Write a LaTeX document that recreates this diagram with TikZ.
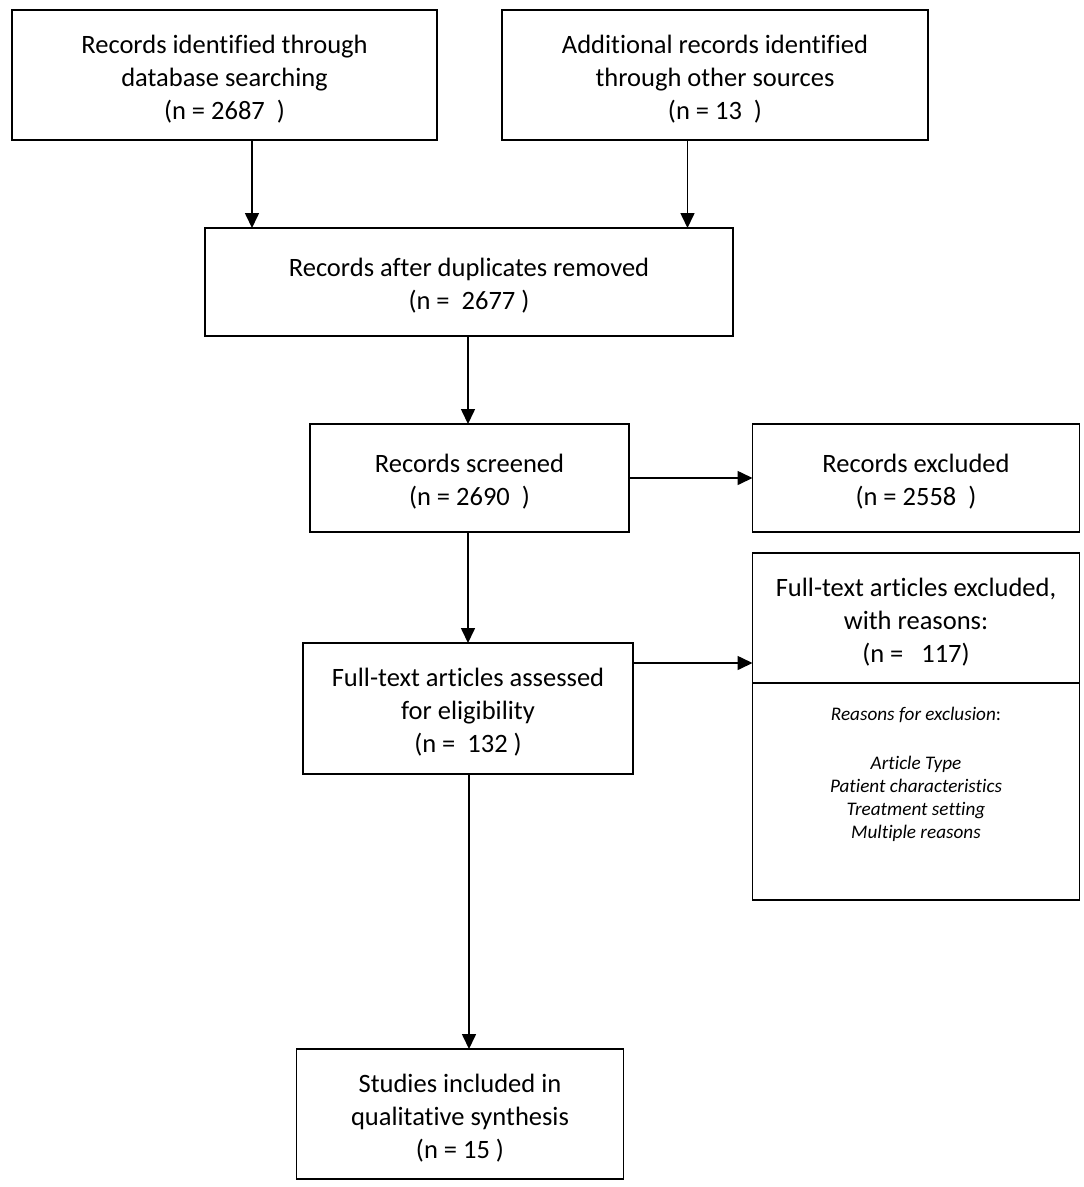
\documentclass[tikz,border=0pt]{standalone}
\usepackage{fontspec}
\setmainfont{Carlito}[Ligatures={NoCommon}]
\usetikzlibrary{arrows.meta}
\newcommand\myts{\rule{0pt}{26pt}}
\begin{document}
\begin{tikzpicture}[x=1pt,y=1pt,
  box/.style={draw=black, line width=1.8pt, fill=white, inner sep=0pt, outer sep=0pt,
    align=center, font=\fontsize{26.5}{33}\selectfont},
  arr/.style={draw=black, line width=1.6pt, -{Triangle[length=15pt,width=14pt]}},
  reasontxt/.style={inner sep=0pt, align=center, font=\fontsize{19.2}{23}\selectfont\itshape}]
\useasboundingbox (0,0) rectangle (1084,-1187);
\fill[white] (0,0) rectangle (1084,-1187);
% boxes
\node[box, minimum width=425, minimum height=130] (a) at (224.5,-75)
  {\myts Records identified through\\database searching\\(n = 2687\ \ )};
\node[box, minimum width=426, minimum height=130] (b) at (715,-75)
  {\myts Additional records identified\\through other sources\\(n = 13\ \ )};
\node[box, minimum width=528, minimum height=108] (c) at (469,-282)
  {\myts Records after duplicates removed\\(n =\ \ 2677 )};
\node[box, minimum width=319, minimum height=108] (d) at (469.5,-478)
  {\myts Records screened\\(n = 2690\ \ )};
\node[box, minimum width=327, minimum height=108] (e) at (916,-478)
  {\myts Records excluded\\(n = 2558\ \ )};
\node[box, minimum width=330, minimum height=131] (f) at (468,-708.5)
  {\myts Full-text articles assessed\\for eligibility\\(n =\ \ 132 )};
\node[box, minimum width=327, minimum height=130] (g1) at (916,-618)
  {\myts Full-text articles excluded,\\with reasons:\\(n =\ \ \ 117)};
\node[box, minimum width=327, minimum height=217, anchor=north] (g2) at (g1.south) {};
\node[reasontxt, anchor=north] (rs) at ([yshift=-24pt]g2.north)
  {\textit{Reasons for exclusion}\/\upshape:\\[26pt]Article Type\\Patient characteristics\\Treatment setting\\Multiple reasons};
\node[box, minimum width=327, minimum height=130] (h) at (460,-1114)
  {\myts Studies included in\\qualitative synthesis\\(n = 15 )};
% connectors
\draw[arr] ([xshift=27.5pt]a.south) -- ([xshift=27.5pt]a.south |- c.north);
\draw[arr] ([xshift=-27.5pt]b.south) -- ([xshift=-27.5pt]b.south |- c.north);
\draw[arr] ([xshift=-1pt]c.south) -- ([xshift=-1pt]c.south |- d.north);
\draw[arr] (d.east) -- (e.west);
\draw[arr] ([xshift=-1.5pt]d.south) -- ([xshift=-1.5pt]d.south |- f.north);
\draw[arr] ([yshift=45.5pt]f.east) -- ([yshift=45.5pt]f.east -| g1.west);
\draw[arr] ([xshift=1pt]f.south) -- ([xshift=1pt]f.south |- h.north);
\end{tikzpicture}
\end{document}
